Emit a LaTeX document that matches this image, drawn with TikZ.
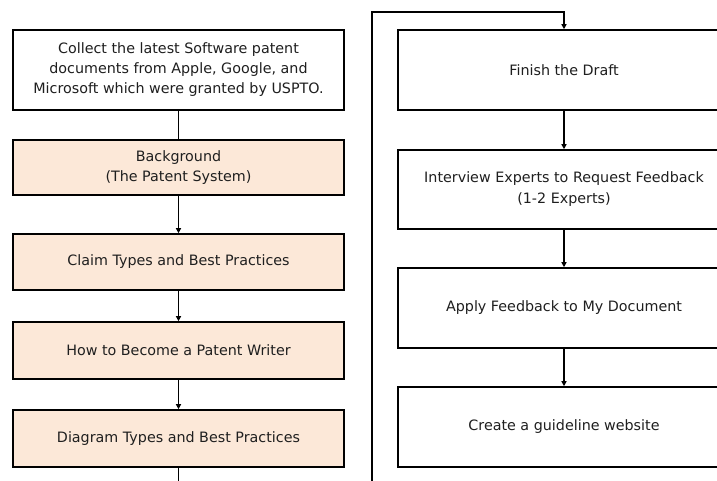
\documentclass[tikz,border=0pt]{standalone}
\usepackage{fontspec}
\setmainfont{DejaVu Sans}
\usetikzlibrary{arrows.meta}
\definecolor{peach}{HTML}{FCE8D8}
\begin{document}
\begin{tikzpicture}[x=1pt,y=-1pt,
  boxbase/.style={draw=black, line width=1.6pt, inner sep=0pt, align=center,
    font=\fontsize{14.3}{20}\selectfont, text=black!88},
  whitebox/.style={boxbase, fill=white},
  peachbox/.style={boxbase, fill=peach},
  conn/.style={line width=1.6pt, draw=black},
  arr/.style={conn, -{Triangle[length=5pt,width=5pt]}}]
\useasboundingbox (0,0) rectangle (717,480);
\clip (0,0) rectangle (717,480);
% left column
\node[whitebox, minimum width=331pt, minimum height=80pt] (b1) at (178.5,70)
  {Collect the latest Software patent\\documents from Apple, Google, and\\Microsoft which were granted by USPTO.};
\node[peachbox, minimum width=331pt, minimum height=55pt] (b2) at (178.5,167.5)
  {Background\\(The Patent System)};
\node[peachbox, minimum width=331pt, minimum height=56pt] (b3) at (178.5,262)
  {Claim Types and Best Practices};
\node[peachbox, minimum width=331pt, minimum height=57pt] (b4) at (178.5,350.5)
  {How to Become a Patent Writer};
\node[peachbox, minimum width=331pt, minimum height=57pt] (b5) at (178.5,438.5)
  {Diagram Types and Best Practices};
% right column
\node[whitebox, minimum width=332pt, minimum height=80pt] (r1) at (564,70)
  {Finish the Draft};
\node[whitebox, minimum width=332pt, minimum height=79pt, font=\fontsize{14.3}{21}\selectfont] (r2) at (564,189.5)
  {Interview Experts to Request Feedback\\(1-2 Experts)};
\node[whitebox, minimum width=332pt, minimum height=80pt] (r3) at (564,308)
  {Apply Feedback to My Document};
\node[whitebox, minimum width=332pt, minimum height=80pt] (r4) at (564,427)
  {Create a guideline website};
% connectors
\draw[conn] (b1) -- (b2);
\draw[arr] (b2) -- (b3);
\draw[arr] (b3) -- (b4);
\draw[arr] (b4) -- (b5);
\coordinate (lb) at (178.5,495);
\coordinate (rb) at (372,495);
\coordinate (rt) at (372,12);
\draw[arr] (b5.south) -- (lb) -- (rb) -- (rt) -| (r1.north);
\draw[arr] (r1) -- (r2);
\draw[arr] (r2) -- (r3);
\draw[arr] (r3) -- (r4);
\end{tikzpicture}
\end{document}
